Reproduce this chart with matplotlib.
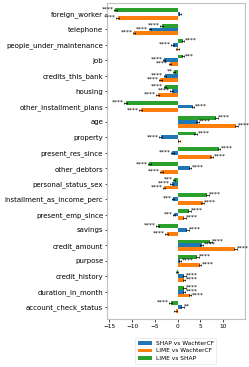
import matplotlib
matplotlib.use("Agg")
import matplotlib.pyplot as plt
import numpy as np

features = ["account_check_status", "duration_in_month", "credit_history", "purpose",
            "credit_amount", "savings", "present_emp_since", "installment_as_income_perc",
            "personal_status_sex", "other_debtors", "present_res_since", "property", "age",
            "other_installment_plans", "housing", "credits_this_bank", "job",
            "people_under_maintenance", "telephone", "foreign_worker"]

series_names = ["SHAP vs WachterCF", "LIME vs WachterCF", "LIME vs SHAP"]

shap_wachter = [1.0, 1.4, 1.5, 0.5, 5.3, 2.1, -0.8, -1.0, -1.3, 2.7,
                -1.2, -3.7, 4.4, 3.4, -1.3, -2.8, -3.0, -1.1, -6.1, 0.5]
lime_wachter = [-0.4, 2.7, 1.4, 4.9, 12.7, -2.4, 1.5, 5.5, -3.0, -3.6,
                7.5, 0.3, 12.9, -8.1, -4.4, -3.8, -1.7, -0.1, -9.6, -13.2]
lime_shap = [-1.5, 1.5, -0.15, 4.3, 7.2, -4.4, 2.6, 6.5, -0.8, -6.2,
             9.1, 4.0, 8.5, -11.4, -2.8, -0.8, 1.2, 1.2, -3.5, -13.7]

err_shap_wachter = [0.3] * 20
err_lime_wachter = [0.3] * 20
err_lime_shap = [0.3] * 20

stars_shap_wachter = ["**", "****", "****", "****", "****", "****", "***", "***", "****", "****",
                      "****", "****", "****", "****", "****", "****", "****", "****", "****", ""]
stars_lime_wachter = ["", "****", "****", "****", "****", "****", "****", "****", "****", "****",
                      "****", "", "****", "****", "****", "****", "****", "", "****", "****"]
stars_lime_shap = ["****", "****", "", "****", "****", "****", "****", "****", "***", "****",
                   "****", "****", "****", "****", "****", "**", "***", "****", "****", "****"]

colors = ["#1f77b4", "#ff7f0e", "#2ca02c"]

fig = plt.figure(figsize=(2.49, 3.67), dpi=100)
ax = fig.add_axes([0.4285, 0.131, 0.555, 0.861])

y = np.arange(len(features))
h = 0.25
data = [(shap_wachter, err_shap_wachter, stars_shap_wachter, 0.0),
        (lime_wachter, err_lime_wachter, stars_lime_wachter, -h),
        (lime_shap, err_lime_shap, stars_lime_shap, h)]

for (vals, errs, stars, off), c, name in zip(data, colors, series_names):
    ax.barh(y + off, vals, height=h, color=c, label=name,
            xerr=errs, error_kw=dict(ecolor="black", elinewidth=0.5, capsize=0.8, capthick=0.5))
    for yi, v, e, s in zip(y, vals, errs, stars):
        if not s:
            continue
        sgn = 1 if v >= 0 else -1
        ax.annotate(s, xy=(v + sgn * e, yi + off), xytext=(sgn * 0.2, -1.2),
                    textcoords="offset points", ha="left" if sgn > 0 else "right",
                    va="bottom", fontsize=4.2, color="black")

ax.set_yticks(y)
ax.set_yticklabels(features, fontsize=5.05)
ax.set_xticks([-15, -10, -5, 0, 5, 10])
ax.tick_params(axis="x", labelsize=4.2, length=2, width=0.5, pad=1.5)
ax.tick_params(axis="y", length=1.5, width=0.5, pad=1.0)
ax.set_xlim(-15.6, 14.8)
ax.set_ylim(-0.77, 19.72)
for sp in ax.spines.values():
    sp.set_color("#c0c0c0")
    sp.set_linewidth(0.8)

leg = ax.legend(loc="upper center", bbox_to_anchor=(0.5, -0.06), fontsize=4.2,
                frameon=True, fancybox=False, edgecolor="#dddddd",
                handlelength=2.4, handleheight=0.6, handletextpad=0.6,
                borderpad=0.5, labelspacing=0.45, borderaxespad=0.0)
leg.get_frame().set_linewidth(0.5)

fig.savefig("out.png", dpi=100)
